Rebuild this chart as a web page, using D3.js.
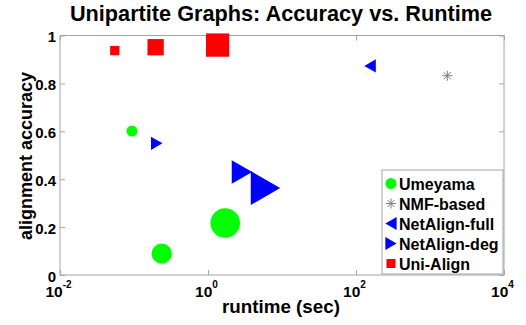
<!DOCTYPE html>
<html>
<head>
<meta charset="utf-8">
<script src="https://cdn.jsdelivr.net/npm/d3@7"></script>
<style>
  body { margin: 0; background: #fff; }
  text { font-family: "Liberation Sans", Arial, sans-serif; font-weight: bold; fill: #000; }
</style>
</head>
<body>
<div id="chart"></div>
<script>
// runtime (sec), accuracy, graph-size level (1 = small .. 3 = large)
var umeyamaRuntime = [0.094, 0.237, 1.71];
var umeyamaAcc = [0.601, 0.089, 0.217];
var umeyamaLevel = [1, 2, 3];

var nmfRuntime = [1714];
var nmfAcc = [0.832];
var nmfLevel = [1];

var fullRuntime = [155];
var fullAcc = [0.873];
var fullLevel = [1];

var degRuntime = [0.203, 2.88, 5.98];
var degAcc = [0.55, 0.43, 0.363];
var degLevel = [1, 2, 3];

var uniRuntime = [0.055, 0.196, 1.35];
var uniAcc = [0.937, 0.951, 0.96];
var uniLevel = [1, 2, 3];

var xTicks = [1e-2, 1e0, 1e2, 1e4];
var yTicks = [0, 0.2, 0.4, 0.6, 0.8, 1];

var width = 526, height = 325;
var margin = {top: 35.5, right: 22, bottom: 50, left: 60};

var svg = d3.select("#chart").append("svg")
    .attr("width", width)
    .attr("height", height);

var x = d3.scaleLog()
    .domain([1e-2, 1e4])
    .range([margin.left, width - margin.right]);

var y = d3.scaleLinear()
    .domain([0, 1])
    .range([height - margin.bottom, margin.top]);

// marker size (px) by graph-size level, per shape
var circleSize = d3.scaleLinear().domain([1, 3]).range([11, 29.5]);
var squareSize = d3.scaleLinear().domain([1, 3]).range([9.3, 23.3]);
var triSize = d3.scaleLinear().domain([1, 3]).range([13.3, 34]);

var axisColor = "#a6a6a6";

// frame
svg.append("rect")
    .attr("x", x.range()[0])
    .attr("y", y.range()[1])
    .attr("width", x.range()[1] - x.range()[0])
    .attr("height", y.range()[0] - y.range()[1])
    .attr("fill", "none")
    .attr("stroke", axisColor);

function styleAxis(g) {
    g.select(".domain").remove();
    g.selectAll(".tick line").attr("stroke", axisColor);
    g.selectAll(".tick text").remove();
}

svg.append("g")
    .attr("transform", "translate(0," + y.range()[0] + ")")
    .call(d3.axisBottom(x).tickValues(xTicks).tickSize(-5))
    .call(styleAxis);
svg.append("g")
    .attr("transform", "translate(0," + y.range()[1] + ")")
    .call(d3.axisTop(x).tickValues(xTicks).tickSize(-5))
    .call(styleAxis);
svg.append("g")
    .attr("transform", "translate(" + x.range()[0] + ",0)")
    .call(d3.axisLeft(y).tickValues(yTicks).tickSize(-5))
    .call(styleAxis);
svg.append("g")
    .attr("transform", "translate(" + x.range()[1] + ",0)")
    .call(d3.axisRight(y).tickValues(yTicks).tickSize(-5))
    .call(styleAxis);

// tick labels
svg.selectAll(".ylab")
    .data(yTicks)
  .enter().append("text")
    .attr("class", "ylab")
    .attr("x", x.range()[0] - 4)
    .attr("y", function(d) { return y(d) + 6.5; })
    .attr("text-anchor", "end")
    .style("font-size", "15px")
    .text(function(d) { return d3.format("~g")(d); });

var xl = svg.selectAll(".xlab")
    .data(xTicks)
  .enter().append("text")
    .attr("class", "xlab")
    .attr("x", function(d) { return x(d) - 1.5; })
    .attr("y", 297)
    .attr("text-anchor", "middle")
    .style("font-size", "15.5px");
xl.append("tspan").text("10");
xl.append("tspan")
    .attr("dy", -9)
    .style("font-size", "10px")
    .text(function(d) { return Math.round(Math.log10(d)); });

// titles
svg.append("text")
    .attr("x", 281)
    .attr("y", 21)
    .attr("text-anchor", "middle")
    .style("font-size", "21.7px")
    .text("Unipartite Graphs: Accuracy vs. Runtime");

svg.append("text")
    .attr("x", 281)
    .attr("y", 313)
    .attr("text-anchor", "middle")
    .style("font-size", "18.8px")
    .text("runtime (sec)");

svg.append("text")
    .attr("transform", "translate(32,156) rotate(-90)")
    .attr("text-anchor", "middle")
    .style("font-size", "18px")
    .text("alignment accuracy");

// marker drawing helpers
function triPath(h, dir) {
    var w = h * 0.866;
    if (dir === "right") return "M" + (-w / 2) + "," + (-h / 2) + "L" + (w / 2) + ",0L" + (-w / 2) + "," + (h / 2) + "Z";
    return "M" + (w / 2) + "," + (-h / 2) + "L" + (-w / 2) + ",0L" + (w / 2) + "," + (h / 2) + "Z";
}
function starPath(s) {
    var r = s / 2, d = r * 0.7071;
    return "M" + (-r) + ",0L" + r + ",0M0," + (-r) + "L0," + r +
        "M" + (-d) + "," + (-d) + "L" + d + "," + d + "M" + (-d) + "," + d + "L" + d + "," + (-d);
}

function zip(rt, acc, lvl) {
    return rt.map(function(r, i) { return {t: r, a: acc[i], l: lvl[i]}; });
}

var plot = svg.append("g");

plot.selectAll(".ume")
    .data(zip(umeyamaRuntime, umeyamaAcc, umeyamaLevel))
  .enter().append("circle")
    .attr("cx", function(d) { return x(d.t); })
    .attr("cy", function(d) { return y(d.a); })
    .attr("r", function(d) { return circleSize(d.l) / 2; })
    .attr("fill", "#00ff00");

plot.selectAll(".nmf")
    .data(zip(nmfRuntime, nmfAcc, nmfLevel))
  .enter().append("path")
    .attr("transform", function(d) { return "translate(" + x(d.t) + "," + y(d.a) + ")"; })
    .attr("d", starPath(10))
    .attr("stroke", "#7f7f7f")
    .attr("fill", "none");

plot.selectAll(".full")
    .data(zip(fullRuntime, fullAcc, fullLevel))
  .enter().append("path")
    .attr("transform", function(d) { return "translate(" + x(d.t) + "," + y(d.a) + ")"; })
    .attr("d", function(d) { return triPath(triSize(d.l), "left"); })
    .attr("fill", "#0000ff");

plot.selectAll(".deg")
    .data(zip(degRuntime, degAcc, degLevel))
  .enter().append("path")
    .attr("transform", function(d) { return "translate(" + x(d.t) + "," + y(d.a) + ")"; })
    .attr("d", function(d) { return triPath(triSize(d.l), "right"); })
    .attr("fill", "#0000ff");

plot.selectAll(".uni")
    .data(zip(uniRuntime, uniAcc, uniLevel))
  .enter().append("rect")
    .attr("x", function(d) { return x(d.t) - squareSize(d.l) / 2; })
    .attr("y", function(d) { return y(d.a) - squareSize(d.l) / 2; })
    .attr("width", function(d) { return squareSize(d.l); })
    .attr("height", function(d) { return squareSize(d.l); })
    .attr("fill", "#ff0000");

// legend
var legendItems = ["Umeyama", "NMF-based", "NetAlign-full", "NetAlign-deg", "Uni-Align"];
var legend = svg.append("g").attr("transform", "translate(382,170)");
legend.append("rect")
    .attr("width", 121)
    .attr("height", 104)
    .attr("fill", "#fff")
    .attr("stroke", axisColor);

var li = legend.selectAll(".li")
    .data(legendItems)
  .enter().append("g")
    .attr("transform", function(d, i) { return "translate(9," + (13.5 + i * 20) + ")"; });

li.append("text")
    .attr("x", 8)
    .attr("y", 6)
    .style("font-size", "16px")
    .text(function(d) { return d; });

li.each(function(d, i) {
    var g = d3.select(this);
    if (i === 0) g.append("circle").attr("r", 5.5).attr("fill", "#00ff00");
    if (i === 1) g.append("path").attr("d", starPath(10)).attr("stroke", "#7f7f7f").attr("fill", "none");
    if (i === 2) g.append("path").attr("d", triPath(13, "left")).attr("fill", "#0000ff");
    if (i === 3) g.append("path").attr("d", triPath(13, "right")).attr("fill", "#0000ff");
    if (i === 4) g.append("rect").attr("x", -4.5).attr("y", -4.5).attr("width", 9).attr("height", 9).attr("fill", "#ff0000");
});
</script>
</body>
</html>
